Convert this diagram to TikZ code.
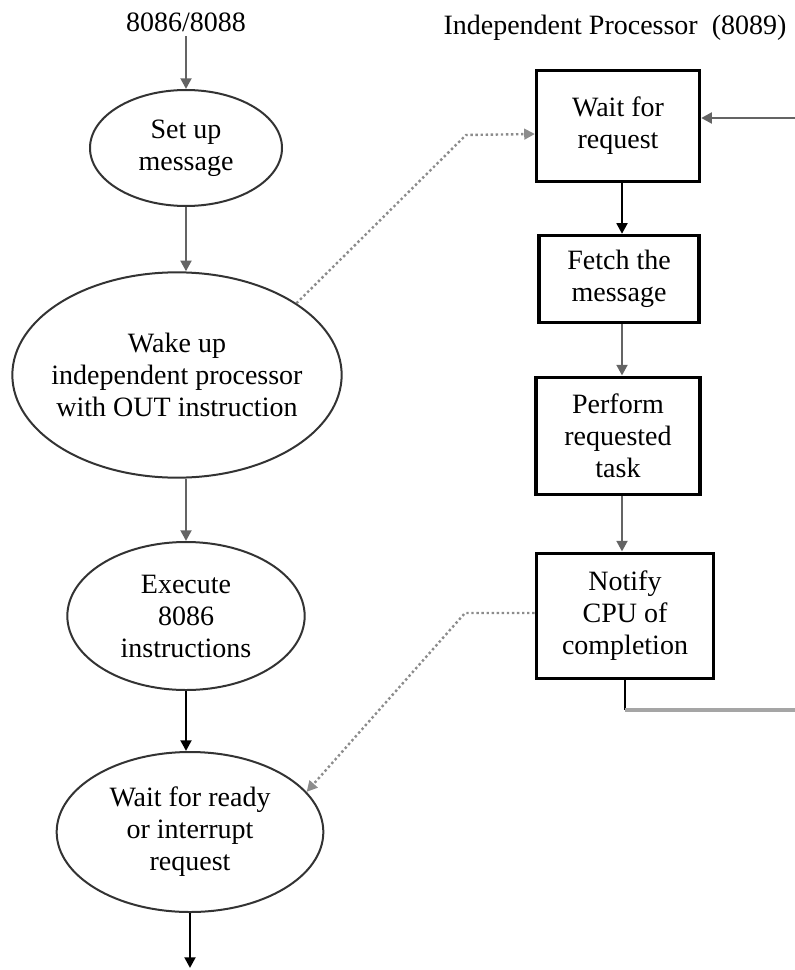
\documentclass[tikz,border=0pt]{standalone}
\usepackage{fontspec}
\setmainfont{Liberation Serif}
\usetikzlibrary{arrows.meta,shapes.geometric}
\definecolor{scangray}{RGB}{100,100,100}
\definecolor{palegray}{RGB}{165,165,165}
\definecolor{dotgray}{RGB}{140,140,140}

\begin{document}
\begin{tikzpicture}[x=0.75pt,y=-0.75pt,font=\fontsize{21}{24}\selectfont,
 oval/.style={ellipse,draw=black!80,line width=1.5pt,inner xsep=-30pt,inner ysep=-12pt,align=center},
 task/.style={rectangle,draw=black,line width=2.7pt,inner sep=0pt,align=center},
 arr/.style={-{Triangle[length=8pt,width=8pt]},line width=2pt},
 link/.style={-{Triangle[length=8pt,width=8pt]},dotted,line width=1.8pt,draw=dotgray}]
\useasboundingbox (0,0) rectangle (794,970);
% 8086/8088 side
\node (cpu) at (186,22) {8086/8088};
\node[oval,minimum width=144pt,minimum height=87pt] (setup) at (186,148) {Set up\\message};
\node[oval,minimum width=247pt,minimum height=154pt] (wake) at (177,375) {Wake up\\independent processor\\with OUT instruction};
\node[oval,minimum width=178pt,minimum height=111pt] (exec) at (186,616) {Execute\\8086\\instructions};
\node[oval,minimum width=200pt,minimum height=120pt] (ready) at (190,832) {Wait for ready\\or interrupt\\request};
\coordinate (cpuout) at (190,968);
\draw[arr,draw=scangray] (cpu) -- (setup);
\draw[arr,draw=scangray] (setup) -- (setup |- wake.north);
\draw[arr,draw=scangray] (wake.south -| exec) -- (exec);
\draw[arr] (exec) -- (exec |- ready.north);
\draw[arr] (ready) -- (cpuout);
% 8089 side
\node (iop) at (615,28) {Independent Processor~~(8089)};
\node[task,minimum width=122pt,minimum height=83pt] (wait) at (618,126) {Wait for\\request};
\node[task,minimum width=120pt,minimum height=65pt] (fetch) at (619,279) {Fetch the\\message};
\node[task,minimum width=123pt,minimum height=88pt] (perform) at (618,436) {Perform\\requested\\task};
\node[task,minimum width=133pt,minimum height=94pt] (notify) at (625,616) {Notify\\CPU of\\completion};
\draw[arr] (wait.south -| 622,0) -- (fetch.north -| 622,0);
\foreach \a/\b in {fetch/perform,perform/notify} \draw[arr,draw=scangray] (\a.south -| 622,0) -- (\b.north -| 622,0);
% loop back
\coordinate (back) at (625,710);
\coordinate (far) at (812,710);
\draw[line width=2pt] (notify.south) -- (back);
\draw[line width=2.5pt,draw=palegray] (back) -- (far) -- (far |- wait.east);
\draw[arr,draw=scangray] (far |- 0,118) -- ([yshift=6pt]wait.east);
% handshakes
\coordinate (bendA) at (466,135);
\coordinate (bendB) at (465,613);
\draw[link] (wake.31) -- (bendA) -- ([yshift=-6pt]wait.west);
\draw[link] (notify.west |- bendB) -- (bendB) -- (ready.19);
\end{tikzpicture}
\end{document}
